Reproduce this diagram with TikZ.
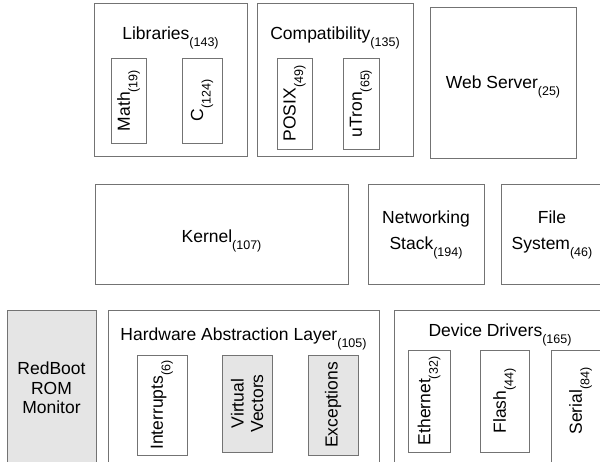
\documentclass[tikz,border=0pt]{standalone}
\usepackage{fontspec}
\setmainfont{Liberation Sans}
\usetikzlibrary{positioning}
\definecolor{boxgray}{gray}{0.9}
\definecolor{linegray}{gray}{0.45}
\tikzset{
  blk/.style={draw=linegray, line width=0.8pt, inner sep=0pt},
  grayblk/.style={blk, fill=boxgray},
  txt/.style={font=\fontsize{17.5}{19.5}\selectfont, inner sep=0pt},
  vtxt/.style={txt, rotate=90}
}
\newcommand{\cnt}[1]{\raisebox{-7.5pt}{\fontsize{12.5}{14}\selectfont(#1)}}

\begin{document}
\begin{tikzpicture}[x=1pt, y=-1pt]
	\useasboundingbox (0,0) rectangle (600,461);
	\clip (0,0) rectangle (600,461);
	% top row
	\node[blk, minimum width=153pt, minimum height=153pt] (libs) at (170.5,79.5) {};
	\node[txt, anchor=base] (libs-t) at (170.5,39) {Libraries\cnt{143}};
	\node[blk, minimum width=35pt, minimum height=85pt] (math) at (128.5,100.5) {};
	\node[vtxt] (math-t) at (math) {Math\cnt{19}};
	\node[blk, minimum width=40pt, minimum height=85pt] (clib) at (202,100.5) {};
	\node[vtxt] (clib-t) at (clib) {C\cnt{124}};
	\node[blk, minimum width=156pt, minimum height=153pt] (compat) at (335,79.5) {};
	\node[txt, anchor=base] (compat-t) at (335,39) {Compatibility\cnt{135}};
	\node[blk, minimum width=35pt, minimum height=91pt] (posix) at (294.5,103.5) {};
	\node[vtxt] (posix-t) at (posix) {POSIX\cnt{49}};
	\node[blk, minimum width=36pt, minimum height=91pt] (utron) at (361,103.5) {};
	\node[vtxt] (utron-t) at (utron) {uTron\cnt{65}};
	\node[blk, minimum width=146pt, minimum height=151pt] (web) at (503,82.5) {};
	\node[txt, anchor=base] (web-t) at (503,88) {Web Server\cnt{25}};
	% middle row
	\node[blk, minimum width=253pt, minimum height=100pt] (kernel) at (221.5,234) {};
	\node[txt, anchor=base] (kernel-t) at (221.5,242) {Kernel\cnt{107}};
	\node[blk, minimum width=116pt, minimum height=100pt] (net) at (426,234) {};
	\node[txt, align=center, anchor=north] (net-t) at (426,211) {Networking\\[6pt]Stack\cnt{194}};
	\node[blk, minimum width=109pt, minimum height=100pt] (fs) at (555.5,234) {};
	\node[txt, align=center, anchor=north] (fs-t) at (552,211) {File\\[6pt]System\cnt{46}};
	% bottom row
	\node[grayblk, minimum width=89pt, minimum height=160pt] (redboot) at (51.5,390) {};
	\node[txt, align=center, anchor=north] (redboot-t) at (51.5,362) {RedBoot\\ROM\\Monitor};
	\node[blk, minimum width=271pt, minimum height=160pt] (hal) at (243.5,390) {};
	\node[txt, anchor=base] (hal-t) at (243.5,340) {Hardware Abstraction Layer\cnt{105}};
	\node[blk, minimum width=50pt, minimum height=100pt] (irq) at (162,405) {};
	\node[vtxt] (irq-t) at (irq) {Interrupts\cnt{6}};
	\node[grayblk, minimum width=50pt, minimum height=97pt] (vv) at (247,403.5) {};
	\node[vtxt, align=center] (vv-t) at (vv) {Virtual\\Vectors};
	\node[grayblk, minimum width=50pt, minimum height=100pt] (exc) at (333,405) {};
	\node[vtxt] (exc-t) at (exc) {Exceptions};
	\node[blk, minimum width=216pt, minimum height=160pt] (drv) at (502,390) {};
	\node[txt, anchor=base] (drv-t) at (500,336) {Device Drivers\cnt{165}};
	\node[blk, minimum width=42pt, minimum height=102pt] (eth) at (429,401) {};
	\node[vtxt] (eth-t) at (eth) {Ethernet\cnt{32}};
	\node[blk, minimum width=49pt, minimum height=102pt] (flash) at (504.5,401) {};
	\node[vtxt] (flash-t) at (flash) {Flash\cnt{44}};
	\node[blk, minimum width=59pt, minimum height=120pt] (serial) at (580.5,410) {};
	\node[vtxt] (serial-t) at (580.5,401) {Serial\cnt{84}};
\end{tikzpicture}
\end{document}
